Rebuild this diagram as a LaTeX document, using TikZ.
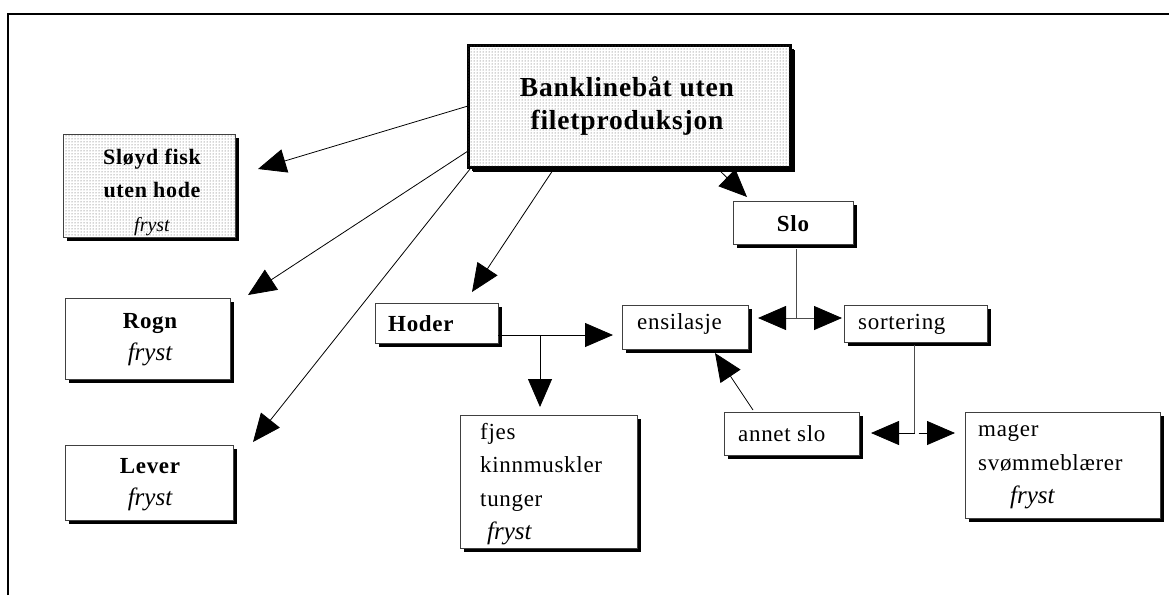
\documentclass[tikz,border=0pt]{standalone}
\usepackage{fontspec}
\setmainfont{Liberation Serif}
\newfontfamily\spaced[LetterSpace=3]{Liberation Serif}
\usetikzlibrary{arrows.meta,shadows,patterns,calc}

\tikzset{
  box/.style={draw=black!75, line width=1pt, fill=white, inner sep=0pt, outer sep=0pt,
    general shadow={shadow xshift=4pt, shadow yshift=-4pt, fill=black}},
  dotbox/.style={box, postaction={pattern=dots, pattern color=black!70}},
  headbox/.style={dotbox, draw=black, line width=3pt,
    general shadow={shadow xshift=5pt, shadow yshift=-5pt, fill=black}},
  txt/.style={inner sep=0pt, font=\spaced\fontsize{23}{33.5}\selectfont, align=left},
  ctxt/.style={txt, align=center},
  btxt/.style={ctxt, font=\spaced\bfseries\fontsize{23}{32}\selectfont},
  link/.style={line width=0.8pt, draw=black, -{Triangle[length=28pt,width=24pt]}},
  glink/.style={line width=0.8pt, draw=black!70,
    -{Triangle[length=28pt,width=24pt,color=black,fill=black]}},
  gline/.style={line width=0.8pt, draw=black!70},
  frameline/.style={line width=2pt, draw=black},
}
\newcommand{\fr}[1][25]{{\rmfamily\mdseries\itshape\fontsize{#1}{33}\selectfont fryst}}

\begin{document}
\begin{tikzpicture}[x=1pt, y=-1pt]
\useasboundingbox (0,0) rectangle (1169,595);

% page frame
\coordinate (fa) at (8,595);
\coordinate (fb) at (8,14);
\coordinate (fc) at (1169,14);
\draw[frameline] (fa) -- (fb) -- (fc);

% boxes
\node[headbox, minimum width=322pt, minimum height=122pt] (main) at (629,106) {};
\node[dotbox, minimum width=172pt, minimum height=103pt] (sloyd) at (149,185.5) {};
\node[box, minimum width=165pt, minimum height=81pt] (rogn) at (147.5,338.5) {};
\node[box, minimum width=168pt, minimum height=75pt] (lever) at (149,482.5) {};
\node[box, minimum width=123pt, minimum height=40pt] (hoder) at (436.5,323) {};
\node[box, minimum width=177pt, minimum height=133pt] (fjes) at (548.5,481.5) {};
\node[box, minimum width=120pt, minimum height=43pt] (slo) at (793,222.5) {};
\node[box, minimum width=126pt, minimum height=44pt] (ensil) at (685,327) {};
\node[box, minimum width=143pt, minimum height=37pt] (sort) at (915.5,323.5) {};
\node[box, minimum width=135pt, minimum height=43pt] (annet) at (791.5,433.5) {};
\node[box, minimum width=195pt, minimum height=106pt] (mager) at (1062.5,465) {};

% texts
\node[ctxt, font=\spaced\bfseries\fontsize{27.5}{33}\selectfont] (maint) at (627,106) {Banklinebåt uten\\filetproduksjon};
\node[btxt, font=\spaced\bfseries\fontsize{22}{33.5}\selectfont] (sloydt) at (152,192) {Sløyd fisk\\uten hode\\\fr[20]};
\node[btxt] (rognt) at (150,340) {Rogn\\\fr};
\node[btxt] (levert) at (150,485) {Lever\\\fr};
\node[btxt, anchor=west] (hodert) at (388,324) {Hoder};
\node[txt, anchor=west] (fjest) at (480,484) {fjes\\kinnmuskler\\tunger\\\hspace*{7pt}\fr};
\node[btxt] (slot) at (793,224) {Slo};
\node[txt, anchor=west] (ensilt) at (637,324) {ensilasje};
\node[txt, anchor=west] (sortt) at (858,324) {sortering};
\node[txt, anchor=west] (annett) at (738,434) {annet slo};
\node[txt, anchor=west] (magert) at (978,467) {mager\\svømmeblærer\\\hspace*{32pt}\fr};

% arrows leaving the vessel box
\draw[link] ($(main.north west)+(0,61)$) -- ($(sloyd.north east)+(23,35)$);
\draw[link] ($(main.north west)+(0,106)$) -- ($(rogn.north east)+(18,-3)$);
\draw[link] ($(main.south west)+(2,2)$) -- ($(lever.north east)+(20,-3)$);
\draw[link] ($(main.south west)+(87,0)$) -- ($(hoder.north west)+(97,-11)$);
\draw[link] ($(main.south west)+(250,2)$) -- ($(slo.north west)+(14,-4)$);

% heads: to silage and to face cuts
\coordinate (hj) at ($(hoder.east)+(0,12)$);
\coordinate (hb) at ($(hj)+(42,0)$);
\draw[link] (hj) -- ($(hj -| ensil.west)+(-9,0)$);
\draw[link] (hb) -- ($(hb |- fjes.north)+(0,-8)$);

% offal split
\coordinate (sa) at ($(slo.south)+(3,5)$);
\coordinate (sj) at ($(sa)+(0,69)$);
\draw[gline] (sa) -- (sj);
\draw[glink] (sj) -- ($(sj -| ensil.east)+(10,0)$);
\draw[glink] (sj) -- ($(sj -| sort.west)+(-2,0)$);

% other offal back to silage
\draw[link] ($(annet.north west)+(29,-2)$) -- ($(ensil.south west)+(93,4)$);

% sorting split
\coordinate (ta) at ($(sort.south)+(-1,3)$);
\coordinate (tj) at ($(ta)+(0,88)$);
\coordinate (tk) at ($(tj)+(4,0)$);
\draw[gline] (ta) -- (tj);
\draw[link] (tj) -- ($(tj -| annet.east)+(12,0)$);
\draw[link] (tk) -- ($(tk -| mager.west)+(-10,0)$);
\end{tikzpicture}
\end{document}
